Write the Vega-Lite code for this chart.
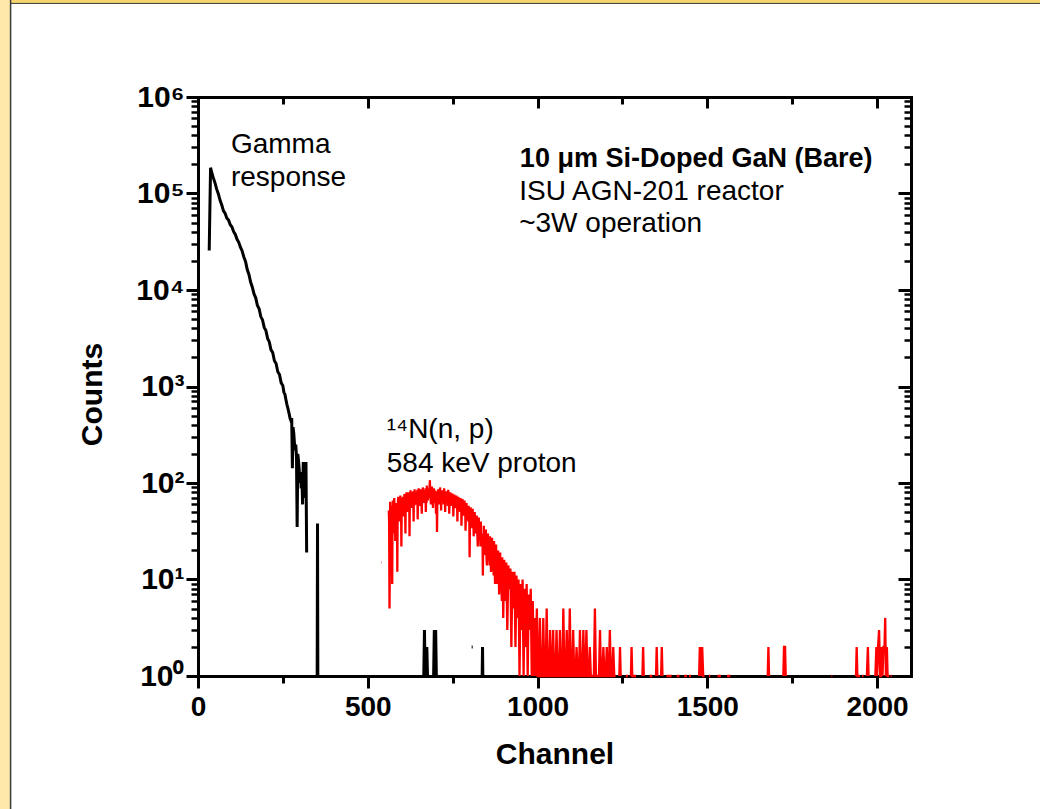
{
  "$schema": "https://vega.github.io/schema/vega-lite/v6.json",
  "width": 713,
  "height": 579,
  "autosize": {"type": "none"},
  "padding": {"left": 198, "top": 97, "right": 129, "bottom": 133},
  "background": "white",
  "config": {
    "view": {"stroke": null},
    "font": "Liberation Sans",
    "axis": {
      "domainColor": "black",
      "tickColor": "black",
      "labelColor": "black",
      "titleColor": "black",
      "grid": false,
      "labelFont": "Liberation Sans",
      "titleFont": "Liberation Sans",
      "labelFontWeight": "bold",
      "titleFontWeight": "bold",
      "zindex": 0,
      "domainCap": "square",
      "labelFlush": false,
      "labelOverlap": false
    }
  },
  "datasets": {
    "one": [{}],
    "gamma": [
      {"c": 33, "n": 25700}, {"c": 37, "n": 185000}, {"c": 40, "n": 167000}, {"c": 45, "n": 146000},
      {"c": 50, "n": 129000}, {"c": 55, "n": 111000}, {"c": 60, "n": 99000}, {"c": 65, "n": 85000},
      {"c": 70, "n": 76000}, {"c": 75, "n": 66000}, {"c": 80, "n": 62000}, {"c": 85, "n": 55500},
      {"c": 90, "n": 53000}, {"c": 95, "n": 47500}, {"c": 100, "n": 45000}, {"c": 105, "n": 40200},
      {"c": 110, "n": 37600}, {"c": 115, "n": 33500}, {"c": 120, "n": 31200}, {"c": 125, "n": 27800},
      {"c": 130, "n": 25400}, {"c": 135, "n": 22000}, {"c": 140, "n": 19800}, {"c": 145, "n": 16300},
      {"c": 150, "n": 14500}, {"c": 155, "n": 12100}, {"c": 160, "n": 10700}, {"c": 165, "n": 9100},
      {"c": 170, "n": 8300}, {"c": 175, "n": 6900}, {"c": 180, "n": 6400}, {"c": 185, "n": 5300},
      {"c": 190, "n": 4900}, {"c": 195, "n": 4100}, {"c": 200, "n": 3800}, {"c": 205, "n": 3150},
      {"c": 210, "n": 2900}, {"c": 215, "n": 2400}, {"c": 220, "n": 2250}, {"c": 225, "n": 1850},
      {"c": 230, "n": 1730}, {"c": 235, "n": 1420}, {"c": 240, "n": 1330}, {"c": 245, "n": 1090},
      {"c": 250, "n": 1020}, {"c": 253, "n": 870}, {"c": 256, "n": 830}, {"c": 259, "n": 730},
      {"c": 262, "n": 650}, {"c": 265, "n": 590}, {"c": 268, "n": 530}, {"c": 271, "n": 470},
      {"c": 274, "n": 440}, {"c": 276, "n": 470}, {"c": 278, "n": 142}, {"c": 280, "n": 380},
      {"c": 282, "n": 330}, {"c": 284, "n": 260}, {"c": 286, "n": 220}, {"c": 288, "n": 250},
      {"c": 290, "n": 190}, {"c": 292, "n": 35}, {"c": 294, "n": 200}, {"c": 296, "n": 170},
      {"c": 298, "n": 140}, {"c": 300, "n": 100}, {"c": 302, "n": 130}, {"c": 304, "n": 88},
      {"c": 306, "n": 120}, {"c": 308, "n": 60}, {"c": 310, "n": 165}, {"c": 312, "n": 85},
      {"c": 314, "n": 110}, {"c": 316, "n": 70}, {"c": 318, "n": 165}, {"c": 320, "n": 19},
      {"c": 321, "n": null},
      {"c": 351, "n": 1}, {"c": 352, "n": 38}, {"c": 353, "n": 1}, {"c": 354, "n": null},
      {"c": 665, "n": 1}, {"c": 667, "n": 3}, {"c": 669, "n": 1}, {"c": 672, "n": 1}, {"c": 674, "n": 2},
      {"c": 676, "n": 1}, {"c": 680, "n": null},
      {"c": 694, "n": 1}, {"c": 696, "n": 3}, {"c": 698, "n": 1}, {"c": 700, "n": 3}, {"c": 702, "n": 1},
      {"c": 704, "n": null},
      {"c": 806, "n": 2}, {"c": 809, "n": 2}, {"c": 810, "n": null},
      {"c": 837, "n": 1}, {"c": 838, "n": 2}, {"c": 839, "n": 1}
    ],
    "proton": [
      {"c": 540, "n": 15}, {"c": 541, "n": 15}, {"c": 542, "n": null},
      {"c": 562, "n": 52}, {"c": 564, "n": 5}, {"c": 566, "n": 64}, {"c": 568, "n": 20}, {"c": 570, "n": 58},
      {"c": 572, "n": 9}, {"c": 574, "n": 66}, {"c": 576, "n": 30}, {"c": 578, "n": 70}, {"c": 581, "n": 25},
      {"c": 584, "n": 62}, {"c": 587, "n": 12}, {"c": 590, "n": 72}, {"c": 593, "n": 40}, {"c": 596, "n": 74},
      {"c": 599, "n": 22}, {"c": 602, "n": 68}, {"c": 605, "n": 45}, {"c": 608, "n": 77}, {"c": 611, "n": 30},
      {"c": 614, "n": 80}, {"c": 617, "n": 50}, {"c": 620, "n": 72}, {"c": 623, "n": 28}, {"c": 626, "n": 84},
      {"c": 629, "n": 55}, {"c": 632, "n": 78}, {"c": 635, "n": 40}, {"c": 638, "n": 86}, {"c": 641, "n": 60},
      {"c": 644, "n": 75}, {"c": 647, "n": 42}, {"c": 650, "n": 88}, {"c": 653, "n": 58}, {"c": 656, "n": 80},
      {"c": 659, "n": 48}, {"c": 662, "n": 90}, {"c": 665, "n": 62}, {"c": 668, "n": 82}, {"c": 671, "n": 50},
      {"c": 674, "n": 94}, {"c": 677, "n": 66}, {"c": 680, "n": 85}, {"c": 683, "n": 107}, {"c": 686, "n": 60},
      {"c": 689, "n": 92}, {"c": 692, "n": 55}, {"c": 695, "n": 88}, {"c": 698, "n": 70}, {"c": 701, "n": 48},
      {"c": 704, "n": 31}, {"c": 707, "n": 86}, {"c": 710, "n": 60}, {"c": 713, "n": 90}, {"c": 716, "n": 52},
      {"c": 719, "n": 84}, {"c": 722, "n": 66}, {"c": 725, "n": 88}, {"c": 728, "n": 50}, {"c": 731, "n": 82},
      {"c": 734, "n": 64}, {"c": 737, "n": 85}, {"c": 740, "n": 48}, {"c": 743, "n": 80}, {"c": 746, "n": 58},
      {"c": 749, "n": 78}, {"c": 752, "n": 45}, {"c": 755, "n": 76}, {"c": 758, "n": 55}, {"c": 761, "n": 74},
      {"c": 764, "n": 40}, {"c": 767, "n": 72}, {"c": 770, "n": 52}, {"c": 773, "n": 70}, {"c": 776, "n": 36},
      {"c": 779, "n": 68}, {"c": 782, "n": 50}, {"c": 785, "n": 66}, {"c": 788, "n": 32}, {"c": 791, "n": 62},
      {"c": 794, "n": 44}, {"c": 797, "n": 58}, {"c": 800, "n": 17}, {"c": 803, "n": 56}, {"c": 806, "n": 36},
      {"c": 809, "n": 54}, {"c": 812, "n": 28}, {"c": 815, "n": 50}, {"c": 818, "n": 34}, {"c": 821, "n": 46},
      {"c": 824, "n": 22}, {"c": 827, "n": 44}, {"c": 830, "n": 30}, {"c": 833, "n": 40}, {"c": 836, "n": 24},
      {"c": 839, "n": 11}, {"c": 842, "n": 36}, {"c": 845, "n": 20}, {"c": 848, "n": 33}, {"c": 851, "n": 14},
      {"c": 854, "n": 30}, {"c": 857, "n": 18}, {"c": 860, "n": 28}, {"c": 863, "n": 12}, {"c": 866, "n": 27},
      {"c": 869, "n": 16}, {"c": 872, "n": 25}, {"c": 875, "n": 9}, {"c": 878, "n": 23}, {"c": 881, "n": 12},
      {"c": 884, "n": 20}, {"c": 887, "n": 7}, {"c": 890, "n": 19}, {"c": 893, "n": 10}, {"c": 896, "n": 17},
      {"c": 899, "n": 4}, {"c": 902, "n": 16}, {"c": 905, "n": 6}, {"c": 908, "n": 15}, {"c": 911, "n": 3},
      {"c": 914, "n": 14}, {"c": 917, "n": 8}, {"c": 920, "n": 13}, {"c": 923, "n": 2}, {"c": 926, "n": 12},
      {"c": 929, "n": 5}, {"c": 932, "n": 12}, {"c": 935, "n": 2}, {"c": 938, "n": 11}, {"c": 941, "n": 4},
      {"c": 944, "n": 10}, {"c": 947, "n": 1}, {"c": 950, "n": 9}, {"c": 953, "n": 3}, {"c": 956, "n": 10},
      {"c": 959, "n": 1}, {"c": 962, "n": 8}, {"c": 965, "n": 2}, {"c": 968, "n": 9}, {"c": 971, "n": 1},
      {"c": 974, "n": 7}, {"c": 977, "n": 3}, {"c": 980, "n": 8}, {"c": 983, "n": 1}, {"c": 986, "n": 6},
      {"c": 989, "n": 1}, {"c": 992, "n": 4}, {"c": 995, "n": 1}, {"c": 998, "n": 5}, {"c": 1001, "n": 1},
      {"c": 563, "n": 38}, {"c": 565, "n": 12}, {"c": 567, "n": 45}, {"c": 569, "n": 40}, {"c": 571, "n": 30},
      {"c": 573, "n": 50}, {"c": 575, "n": 55}, {"c": 577, "n": 42}, {"c": 579, "n": 48}, {"c": 580, "n": 60},
      {"c": 582, "n": 55}, {"c": 583, "n": 40}, {"c": 585, "n": 35}, {"c": 586, "n": 58}, {"c": 588, "n": 50},
      {"c": 589, "n": 65}, {"c": 591, "n": 55}, {"c": 592, "n": 68}, {"c": 594, "n": 60}, {"c": 595, "n": 48},
      {"c": 597, "n": 60}, {"c": 598, "n": 70}, {"c": 600, "n": 55}, {"c": 601, "n": 45}, {"c": 603, "n": 62},
      {"c": 604, "n": 72}, {"c": 606, "n": 66}, {"c": 607, "n": 52}, {"c": 609, "n": 70}, {"c": 610, "n": 58},
      {"c": 612, "n": 75}, {"c": 613, "n": 62}, {"c": 615, "n": 66}, {"c": 616, "n": 74}, {"c": 618, "n": 62},
      {"c": 619, "n": 80}, {"c": 621, "n": 58}, {"c": 622, "n": 76}, {"c": 624, "n": 68}, {"c": 625, "n": 56},
      {"c": 627, "n": 66}, {"c": 628, "n": 80}, {"c": 630, "n": 72}, {"c": 631, "n": 60}, {"c": 633, "n": 65},
      {"c": 634, "n": 82}, {"c": 636, "n": 70}, {"c": 637, "n": 58}, {"c": 639, "n": 72}, {"c": 640, "n": 62},
      {"c": 642, "n": 80}, {"c": 643, "n": 66}, {"c": 645, "n": 70}, {"c": 646, "n": 85}, {"c": 648, "n": 65},
      {"c": 649, "n": 72}, {"c": 651, "n": 70}, {"c": 652, "n": 82}, {"c": 654, "n": 66}, {"c": 655, "n": 86},
      {"c": 657, "n": 62}, {"c": 658, "n": 78}, {"c": 660, "n": 72}, {"c": 661, "n": 64}, {"c": 663, "n": 78},
      {"c": 664, "n": 70}, {"c": 666, "n": 84}, {"c": 667, "n": 68}, {"c": 669, "n": 72}, {"c": 670, "n": 88},
      {"c": 672, "n": 70}, {"c": 673, "n": 62}, {"c": 675, "n": 80}, {"c": 676, "n": 72}, {"c": 678, "n": 88},
      {"c": 679, "n": 70}, {"c": 681, "n": 75}, {"c": 682, "n": 90}, {"c": 684, "n": 78}, {"c": 685, "n": 68},
      {"c": 687, "n": 80}, {"c": 688, "n": 72}, {"c": 690, "n": 68}, {"c": 691, "n": 86}, {"c": 693, "n": 74},
      {"c": 694, "n": 80}, {"c": 696, "n": 62}, {"c": 697, "n": 84}, {"c": 699, "n": 78}, {"c": 700, "n": 66},
      {"c": 702, "n": 82}, {"c": 703, "n": 70}, {"c": 705, "n": 72}, {"c": 706, "n": 62}, {"c": 708, "n": 74},
      {"c": 709, "n": 80}, {"c": 711, "n": 70}, {"c": 712, "n": 64}, {"c": 714, "n": 76}, {"c": 715, "n": 82},
      {"c": 717, "n": 70}, {"c": 718, "n": 64}, {"c": 720, "n": 76}, {"c": 721, "n": 82}, {"c": 723, "n": 70},
      {"c": 724, "n": 60}, {"c": 726, "n": 74}, {"c": 727, "n": 80}, {"c": 729, "n": 68}, {"c": 730, "n": 72},
      {"c": 732, "n": 62}, {"c": 733, "n": 78}, {"c": 735, "n": 70}, {"c": 736, "n": 58}, {"c": 738, "n": 72},
      {"c": 739, "n": 80}, {"c": 741, "n": 66}, {"c": 742, "n": 60}, {"c": 744, "n": 72}, {"c": 745, "n": 66},
      {"c": 747, "n": 70}, {"c": 748, "n": 58}, {"c": 750, "n": 66}, {"c": 751, "n": 72}, {"c": 753, "n": 60},
      {"c": 754, "n": 68}, {"c": 756, "n": 62}, {"c": 757, "n": 70}, {"c": 759, "n": 60}, {"c": 760, "n": 66},
      {"c": 762, "n": 58}, {"c": 763, "n": 66}, {"c": 765, "n": 62}, {"c": 766, "n": 52}, {"c": 768, "n": 60},
      {"c": 769, "n": 64}, {"c": 771, "n": 58}, {"c": 772, "n": 50}, {"c": 774, "n": 56}, {"c": 775, "n": 62},
      {"c": 777, "n": 52}, {"c": 778, "n": 58}, {"c": 780, "n": 55}, {"c": 781, "n": 46}, {"c": 783, "n": 56},
      {"c": 784, "n": 48}, {"c": 786, "n": 50}, {"c": 787, "n": 56}, {"c": 789, "n": 48}, {"c": 790, "n": 52},
      {"c": 792, "n": 42}, {"c": 793, "n": 50}, {"c": 795, "n": 46}, {"c": 796, "n": 40}, {"c": 798, "n": 44},
      {"c": 799, "n": 48}, {"c": 801, "n": 40}, {"c": 802, "n": 46}, {"c": 804, "n": 38}, {"c": 805, "n": 44},
      {"c": 807, "n": 40}, {"c": 808, "n": 34}, {"c": 810, "n": 38}, {"c": 811, "n": 42}, {"c": 813, "n": 36},
      {"c": 814, "n": 32}, {"c": 816, "n": 36}, {"c": 817, "n": 40}, {"c": 819, "n": 30}, {"c": 820, "n": 34},
      {"c": 822, "n": 32}, {"c": 823, "n": 28}, {"c": 825, "n": 30}, {"c": 826, "n": 34}, {"c": 828, "n": 26},
      {"c": 829, "n": 30}, {"c": 831, "n": 28}, {"c": 832, "n": 22}, {"c": 834, "n": 26}, {"c": 835, "n": 30},
      {"c": 837, "n": 22}, {"c": 838, "n": 27}, {"c": 840, "n": 24}, {"c": 841, "n": 20}, {"c": 843, "n": 22},
      {"c": 844, "n": 26}, {"c": 846, "n": 18}, {"c": 847, "n": 22}, {"c": 849, "n": 20}, {"c": 850, "n": 16},
      {"c": 852, "n": 19}, {"c": 853, "n": 22}, {"c": 855, "n": 16}, {"c": 856, "n": 20}, {"c": 858, "n": 17},
      {"c": 859, "n": 14}, {"c": 861, "n": 16}, {"c": 862, "n": 19}, {"c": 864, "n": 14}, {"c": 865, "n": 17},
      {"c": 867, "n": 13}, {"c": 868, "n": 15}, {"c": 870, "n": 13}, {"c": 871, "n": 11}, {"c": 873, "n": 14},
      {"c": 874, "n": 12}, {"c": 876, "n": 13}, {"c": 877, "n": 10}, {"c": 879, "n": 12}, {"c": 880, "n": 9},
      {"c": 882, "n": 11}, {"c": 883, "n": 13}, {"c": 885, "n": 9}, {"c": 886, "n": 11}, {"c": 888, "n": 10},
      {"c": 889, "n": 8}, {"c": 891, "n": 9}, {"c": 892, "n": 11}, {"c": 894, "n": 8}, {"c": 895, "n": 6},
      {"c": 897, "n": 8}, {"c": 898, "n": 10}, {"c": 900, "n": 7}, {"c": 901, "n": 9},
      {"c": 1004, "n": 1}, {"c": 1007, "n": 4}, {"c": 1010, "n": 1}, {"c": 1014, "n": 1}, {"c": 1017, "n": 4},
      {"c": 1020, "n": 1}, {"c": 1024, "n": 1}, {"c": 1027, "n": 5}, {"c": 1030, "n": 1}, {"c": 1034, "n": 1},
      {"c": 1037, "n": 3}, {"c": 1040, "n": 1}, {"c": 1043, "n": 1}, {"c": 1046, "n": 3}, {"c": 1049, "n": 1},
      {"c": 1053, "n": 1}, {"c": 1056, "n": 3}, {"c": 1059, "n": 1}, {"c": 1063, "n": 1}, {"c": 1066, "n": 3},
      {"c": 1069, "n": 1}, {"c": 1073, "n": 1}, {"c": 1076, "n": 5}, {"c": 1079, "n": 1}, {"c": 1083, "n": 1},
      {"c": 1086, "n": 3}, {"c": 1089, "n": 1}, {"c": 1092, "n": 1}, {"c": 1095, "n": 5}, {"c": 1098, "n": 1},
      {"c": 1102, "n": 1}, {"c": 1105, "n": 3}, {"c": 1108, "n": 1}, {"c": 1112, "n": 1}, {"c": 1115, "n": 2},
      {"c": 1118, "n": 1}, {"c": 1122, "n": 1}, {"c": 1125, "n": 3}, {"c": 1128, "n": 1}, {"c": 1132, "n": 1},
      {"c": 1135, "n": 3}, {"c": 1138, "n": 1}, {"c": 1141, "n": 1}, {"c": 1144, "n": 3}, {"c": 1147, "n": 1},
      {"c": 1151, "n": 1}, {"c": 1154, "n": 2}, {"c": 1157, "n": 1}, {"c": 1166, "n": 1}, {"c": 1169, "n": 5},
      {"c": 1172, "n": 1}, {"c": 1181, "n": 1}, {"c": 1184, "n": 3}, {"c": 1187, "n": 1}, {"c": 1191, "n": 1},
      {"c": 1194, "n": 2}, {"c": 1197, "n": 1}, {"c": 1201, "n": 1}, {"c": 1204, "n": 2}, {"c": 1207, "n": 1},
      {"c": 1210, "n": 1}, {"c": 1213, "n": 3}, {"c": 1216, "n": 1}, {"c": 1220, "n": 1}, {"c": 1223, "n": 2},
      {"c": 1226, "n": 1}, {"c": 1230, "n": 1}, {"c": 1231, "n": null},
      {"c": 1241, "n": 1}, {"c": 1243, "n": 2}, {"c": 1245, "n": 1}, {"c": 1246, "n": null},
      {"c": 1260, "n": 1}, {"c": 1266, "n": 1}, {"c": 1267, "n": null},
      {"c": 1275, "n": 1}, {"c": 1277, "n": 2}, {"c": 1279, "n": 1}, {"c": 1290, "n": 1}, {"c": 1291, "n": null},
      {"c": 1309, "n": 1}, {"c": 1311, "n": 2}, {"c": 1313, "n": 1}, {"c": 1314, "n": null},
      {"c": 1330, "n": 1}, {"c": 1338, "n": 1}, {"c": 1339, "n": null},
      {"c": 1349, "n": 1}, {"c": 1351, "n": 2}, {"c": 1353, "n": 1}, {"c": 1354, "n": null},
      {"c": 1364, "n": 1}, {"c": 1366, "n": 2}, {"c": 1368, "n": 1}, {"c": 1369, "n": null},
      {"c": 1380, "n": 1}, {"c": 1395, "n": 1}, {"c": 1396, "n": null},
      {"c": 1410, "n": 1}, {"c": 1418, "n": 1}, {"c": 1419, "n": null},
      {"c": 1432, "n": 1}, {"c": 1440, "n": 1}, {"c": 1441, "n": null},
      {"c": 1446, "n": 1}, {"c": 1452, "n": 1}, {"c": 1453, "n": null},
      {"c": 1476, "n": 1}, {"c": 1478, "n": 2}, {"c": 1481, "n": 1}, {"c": 1485, "n": 2}, {"c": 1488, "n": 1},
      {"c": 1492, "n": 1}, {"c": 1493, "n": null},
      {"c": 1505, "n": 1}, {"c": 1509, "n": 1}, {"c": 1510, "n": null},
      {"c": 1530, "n": 1}, {"c": 1540, "n": 1}, {"c": 1541, "n": null},
      {"c": 1558, "n": 1}, {"c": 1568, "n": 1}, {"c": 1569, "n": null},
      {"c": 1678, "n": 1}, {"c": 1680, "n": 2}, {"c": 1682, "n": 1}, {"c": 1683, "n": null},
      {"c": 1724, "n": 1}, {"c": 1726, "n": 2}, {"c": 1729, "n": 2}, {"c": 1731, "n": 1}, {"c": 1732, "n": null},
      {"c": 1866, "n": 1}, {"c": 1868, "n": 1}, {"c": 1869, "n": null},
      {"c": 1938, "n": 1}, {"c": 1940, "n": 2}, {"c": 1942, "n": 1}, {"c": 1950, "n": 1}, {"c": 1951, "n": null},
      {"c": 1956, "n": 1}, {"c": 1960, "n": 1}, {"c": 1961, "n": null},
      {"c": 1970, "n": 1}, {"c": 1973, "n": 2}, {"c": 1975, "n": 1}, {"c": 1976, "n": null},
      {"c": 1995, "n": 1}, {"c": 1998, "n": 2}, {"c": 2000, "n": 1}, {"c": 2003, "n": 2}, {"c": 2006, "n": 3},
      {"c": 2009, "n": 1}, {"c": 2012, "n": 1}, {"c": 2014, "n": 2}, {"c": 2016, "n": 1}, {"c": 2019, "n": 2},
      {"c": 2022, "n": 2}, {"c": 2024, "n": 4}, {"c": 2026, "n": 1}, {"c": 2029, "n": 2}, {"c": 2031, "n": 1},
      {"c": 2036, "n": 1}, {"c": 2037, "n": null}, {"c": 2040, "n": 1}, {"c": 2043, "n": 1}
    ]
  },
  "layer": [
    {
      "description": "slide frame, top band",
      "data": {"name": "one"},
      "mark": {"type": "rect", "fill": "#F7D46E", "stroke": "#3a3a3a", "strokeWidth": 1},
      "encoding": {
        "x": {"datum": -700, "type": "quantitative", "scale": {"domain": [0, 2100], "nice": false, "zero": false},
          "axis": {"orient": "top", "values": [500, 1000, 1500, 2000], "tickSize": -11, "tickWidth": 3, "domainWidth": 3, "labels": false, "title": null}},
        "x2": {"datum": 5000},
        "y": {"datum": 100000000, "type": "quantitative", "scale": {"type": "log", "domain": [1, 1000000], "nice": false},
          "axis": {"orient": "right", "values": [10, 100, 1000, 10000, 100000], "tickSize": -13, "tickWidth": 3, "domainWidth": 3, "labels": false, "title": null}},
        "y2": {"datum": 9330000}
      }
    },
    {
      "description": "slide frame, left band",
      "data": {"name": "one"},
      "mark": {"type": "rect", "fill": "#FFE8AA", "stroke": "#3a3a3a", "strokeWidth": 1.5},
      "encoding": {
        "x": {"datum": -700, "type": "quantitative", "scale": {"domain": [0, 2100], "nice": false, "zero": false},
          "axis": {"orient": "top", "values": [250, 750, 1250, 1750], "tickSize": -7, "tickWidth": 3, "domain": false, "labels": false, "title": null}},
        "x2": {"datum": -552},
        "y": {"datum": 100000000, "type": "quantitative", "scale": {"type": "log", "domain": [1, 1000000], "nice": false},
          "axis": {"orient": "right", "values": [2,3,4,5,6,7,8,9,20,30,40,50,60,70,80,90,200,300,400,500,600,700,800,900,2000,3000,4000,5000,6000,7000,8000,9000,20000,30000,40000,50000,60000,70000,80000,90000,200000,300000,400000,500000,600000,700000,800000,900000], "tickSize": -7, "tickWidth": 2.5, "domain": false, "labels": false, "title": null}},
        "y2": {"datum": 0.0001}
      }
    },
    {
      "data": {"name": "gamma"},
      "mark": {"type": "line", "color": "black", "strokeWidth": 3, "invalid": "break-paths-show-domains", "strokeJoin": "miter"},
      "encoding": {
        "x": {"field": "c", "type": "quantitative", "scale": {"domain": [0, 2100], "nice": false, "zero": false},
          "axis": {"orient": "bottom", "values": [0, 500, 1000, 1500, 2000], "format": "d", "tickSize": 12, "tickWidth": 3, "domainWidth": 3,
            "labelFontSize": 28, "labelPadding": 5, "title": "Channel", "titleFontSize": 30, "titlePadding": 18}},
        "y": {"field": "n", "type": "quantitative", "scale": {"type": "log", "domain": [1, 1000000], "nice": false},
          "axis": {"orient": "left", "values": [1, 10, 100, 1000, 10000, 100000, 1000000], "tickSize": 12, "tickWidth": 3, "domainWidth": 3,
            "labelFontSize": 30, "labelPadding": 2,
            "labelExpr": "'10' + ['⁰','¹','²','³','⁴','⁵','⁶'][round(log(datum.value) / LN10)]",
            "title": "Counts", "titleFontSize": 30, "titlePadding": 28, "titleY": 297}}
      }
    },
    {
      "data": {"name": "proton"},
      "mark": {"type": "line", "color": "#FF0000", "strokeWidth": 2.3, "invalid": "break-paths-show-domains", "strokeJoin": "miter"},
      "encoding": {
        "x": {"field": "c", "type": "quantitative", "scale": {"domain": [0, 2100], "nice": false, "zero": false},
          "axis": {"orient": "bottom", "values": [250, 750, 1250, 1750], "tickSize": 7, "tickWidth": 3, "domain": false, "labels": false, "title": null}},
        "y": {"field": "n", "type": "quantitative", "scale": {"type": "log", "domain": [1, 1000000], "nice": false},
          "axis": {"orient": "left", "values": [2,3,4,5,6,7,8,9,20,30,40,50,60,70,80,90,200,300,400,500,600,700,800,900,2000,3000,4000,5000,6000,7000,8000,9000,20000,30000,40000,50000,60000,70000,80000,90000,200000,300000,400000,500000,600000,700000,800000,900000], "tickSize": 7, "tickWidth": 2.5, "domain": false, "labels": false, "title": null}}
      }
    },
    {
      "data": {"name": "one"},
      "mark": {"type": "text", "text": ["Gamma", "response"], "font": "Liberation Sans", "color": "black", "fontSize": 28, "align": "left", "baseline": "alphabetic", "lineHeight": 33},
      "encoding": {
        "x": {"datum": 97, "type": "quantitative", "axis": null},
        "y": {"datum": 263000, "type": "quantitative", "axis": null}
      }
    },
    {
      "data": {"name": "one"},
      "mark": {"type": "text", "text": "10 μm Si-Doped GaN (Bare)", "font": "Liberation Sans", "color": "black", "fontSize": 27, "fontWeight": "bold", "align": "left", "baseline": "alphabetic"},
      "encoding": {
        "x": {"datum": 948, "type": "quantitative", "axis": null},
        "y": {"datum": 190000, "type": "quantitative", "axis": null}
      }
    },
    {
      "data": {"name": "one"},
      "mark": {"type": "text", "text": ["ISU AGN-201 reactor", "~3W operation"], "font": "Liberation Sans", "color": "black", "fontSize": 28, "align": "left", "baseline": "alphabetic", "lineHeight": 32},
      "encoding": {
        "x": {"datum": 946, "type": "quantitative", "axis": null},
        "y": {"datum": 85700, "type": "quantitative", "axis": null}
      }
    },
    {
      "data": {"name": "one"},
      "mark": {"type": "text", "text": ["¹⁴N(n, p)", "584 keV proton"], "font": "Liberation Sans", "color": "black", "fontSize": 28, "align": "left", "baseline": "alphabetic", "lineHeight": 34},
      "encoding": {
        "x": {"datum": 556, "type": "quantitative", "axis": null},
        "y": {"datum": 292, "type": "quantitative", "axis": null}
      }
    }
  ],
  "resolve": {"axis": {"x": "independent", "y": "independent"}}
}
